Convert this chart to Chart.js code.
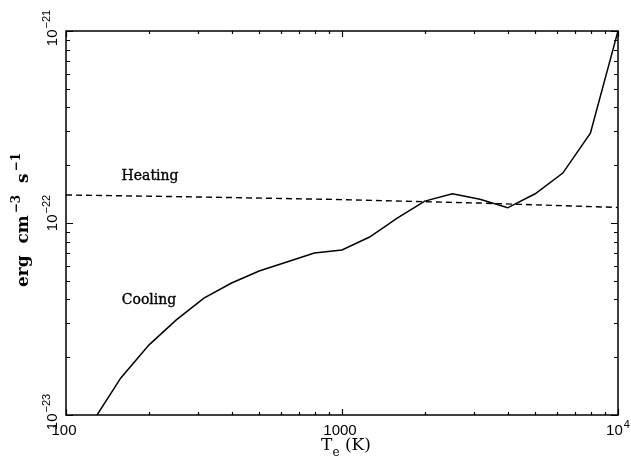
<!DOCTYPE html>
<html><head><meta charset="utf-8">
<script src="https://cdn.jsdelivr.net/npm/chart.js@4/dist/chart.umd.min.js"></script>
<style>html,body{margin:0;padding:0;background:#fff;}canvas{display:block;}</style>
</head><body>
<canvas id="c" width="631" height="458"></canvas>
<script>
// ---- data ----
const coolingT = [126, 158, 200, 251, 316, 398, 501, 631, 794, 1000, 1259, 1585, 1995, 2512, 3162, 3981, 5012, 6310, 7943, 10000];
const coolingRate = [9.4e-24, 1.56e-23, 2.32e-23, 3.13e-23, 4.06e-23, 4.87e-23, 5.62e-23, 6.26e-23, 6.98e-23, 7.23e-23,
                     8.45e-23, 1.06e-22, 1.30e-22, 1.42e-22, 1.33e-22, 1.20e-22, 1.42e-22, 1.82e-22, 2.94e-22, 1.0e-21];
const heatingT = [100, 316, 1000, 3162, 10000];
const heatingRate = [1.40e-22, 1.365e-22, 1.324e-22, 1.27e-22, 1.205e-22];
const xTickValues = [100, 1000, 10000];
const xTickLabels = [["100", ""], ["1000", ""], ["10", "4"]];
const yTickValues = [1e-23, 1e-22, 1e-21];
const yTickLabels = [["10", "\u221223"], ["10", "\u221222"], ["10", "\u221221"]];
const seriesLabels = ["Cooling", "Heating"];

// ---- styles ----
const yLabelShift = [-3, -10, -3];

const axesPlugin = {
  id: 'axesPlugin',
  afterDatasetsDraw(chart) {
    const ctx = chart.ctx, a = chart.chartArea, xs = chart.scales.x, ys = chart.scales.y;
    ctx.save();
    ctx.strokeStyle = '#000';
    ctx.lineWidth = 1.5;
    ctx.strokeRect(a.left, a.top, a.right - a.left, a.bottom - a.top);
    ctx.lineWidth = 1.2;
    ctx.beginPath();
    for (let d = 2; d <= 4; d++) {
      for (let k = 1; k <= 9; k++) {
        const v = k * Math.pow(10, d);
        if (v > xs.max * 1.0001) break;
        const px = Math.round(xs.getPixelForValue(v)) + 0.5;
        const len = k === 1 ? 6 : 3;
        ctx.moveTo(px, a.bottom); ctx.lineTo(px, a.bottom - len);
        ctx.moveTo(px, a.top); ctx.lineTo(px, a.top + len);
      }
    }
    for (let d = -23; d <= -21; d++) {
      for (let k = 1; k <= 9; k++) {
        const v = k * Math.pow(10, d);
        if (v > ys.max * 1.0001) break;
        const py = Math.round(ys.getPixelForValue(v)) + 0.5;
        const len = k === 1 ? 7 : 4;
        ctx.moveTo(a.left, py); ctx.lineTo(a.left + len, py);
        ctx.moveTo(a.right, py); ctx.lineTo(a.right - len, py);
      }
    }
    ctx.stroke();

    ctx.fillStyle = '#000';
    const bigF = '15px "Liberation Sans", Arial, sans-serif';
    const supF = '11px "Liberation Sans", Arial, sans-serif';
    ctx.textBaseline = 'alphabetic';
    ctx.textAlign = 'left';
    xTickValues.forEach((v, i) => {
      const [b, s] = xTickLabels[i];
      ctx.font = bigF; const wb = ctx.measureText(b).width;
      ctx.font = supF; const ws = s ? ctx.measureText(s).width + 1 : 0;
      const x0 = xs.getPixelForValue(v) - (wb + ws) / 2 - (s ? 0 : 2);
      ctx.font = bigF; ctx.fillText(b, x0, 435);
      if (s) { ctx.font = supF; ctx.fillText(s, x0 + wb + 1, 428); }
    });
    yTickValues.forEach((v, i) => {
      const [b, s] = yTickLabels[i];
      ctx.save();
      ctx.translate(57, ys.getPixelForValue(v) + yLabelShift[i]);
      ctx.rotate(-Math.PI / 2);
      ctx.font = bigF; const wb = ctx.measureText(b).width;
      ctx.font = supF; const ws = ctx.measureText(s).width + 1;
      const x0 = -(wb + ws) / 2;
      ctx.font = bigF; ctx.fillText(b, x0, 0);
      ctx.font = supF; ctx.fillText(s, x0 + wb + 1, -7);
      ctx.restore();
    });
    // x title
    const tF = '17px "DejaVu Serif", serif';
    const tS = '12px "DejaVu Serif", serif';
    ctx.font = tF; const wT = ctx.measureText('T').width, wK = ctx.measureText(' (K)').width;
    ctx.font = tS; const wE = ctx.measureText('e').width;
    let xx = 346 - (wT + wE + wK) / 2;
    ctx.font = tF; ctx.fillText('T', xx, 450); xx += wT;
    ctx.font = tS; ctx.fillText('e', xx, 456); xx += wE;
    ctx.font = tF; ctx.fillText(' (K)', xx, 450);
    // y title (rotated)
    ctx.save();
    ctx.translate(28, 220);
    ctx.rotate(-Math.PI / 2);
    const parts = [['erg  cm', 0], ['\u22123', 1], ['  s', 0], ['\u22121', 1]];
    const yF = 'bold 17px "DejaVu Serif", serif', yS = 'bold 12px "DejaVu Serif", serif';
    let tot = 0;
    parts.forEach(p => { ctx.font = p[1] ? yS : yF; tot += ctx.measureText(p[0]).width + (p[1] ? 2 : 0); });
    let px = -tot / 2;
    parts.forEach(p => {
      ctx.font = p[1] ? yS : yF;
      ctx.fillText(p[0], px + (p[1] ? 2 : 0), p[1] ? -8 : 0);
      px += ctx.measureText(p[0]).width + (p[1] ? 2 : 0);
    });
    ctx.restore();
    // series annotations
    ctx.font = '14px "DejaVu Serif", serif';
    ctx.textAlign = 'center';
    ctx.textBaseline = 'middle';
    ctx.lineWidth = 0.35;
    ctx.fillText(seriesLabels[1], 150, 176);
    ctx.strokeText(seriesLabels[1], 150, 176);
    ctx.fillText(seriesLabels[0], 149, 300);
    ctx.strokeText(seriesLabels[0], 149, 300);
    ctx.restore();
  }
};

new Chart(document.getElementById('c'), {
  type: 'line',
  data: {
    datasets: [
      { label: seriesLabels[0], data: coolingT.map((t, i) => ({ x: t, y: coolingRate[i] })),
        borderColor: '#000', borderWidth: 1.5, pointRadius: 0, tension: 0, fill: false },
      { label: seriesLabels[1], data: heatingT.map((t, i) => ({ x: t, y: heatingRate[i] })),
        borderColor: '#000', borderWidth: 1.4, borderDash: [6, 4], pointRadius: 0, tension: 0, fill: false }
    ]
  },
  options: {
    responsive: false, animation: false, devicePixelRatio: 1,
    layout: { padding: { left: 66, top: 31, right: 13, bottom: 43 } },
    scales: {
      x: { type: 'logarithmic', min: 100, max: 10000, display: false },
      y: { type: 'logarithmic', min: 1e-23, max: 1e-21, display: false }
    },
    plugins: { legend: { display: false }, tooltip: { enabled: false } }
  },
  plugins: [axesPlugin]
});
</script>
</body></html>
